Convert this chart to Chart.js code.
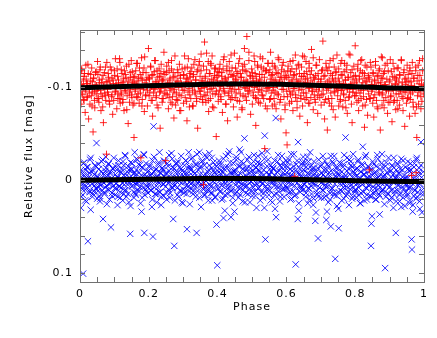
<!DOCTYPE html>
<html>
<head>
<meta charset="utf-8">
<script src="https://cdn.jsdelivr.net/npm/chart.js@4.4.1/dist/chart.umd.min.js"></script>
<style>
  body { margin: 0; background: #fff; }
  canvas { display: block; }
</style>
</head>
<body>
<canvas id="chart" width="437" height="338"></canvas>
<script>
// phase and magnitudes are stored x1000 (phase in thousandths, mag in mmag)
const phase = [
  0,1,3,4,5,7,9,10,12,13,15,17,18,20,22,23,25,27,29,31,33,35,36,38,
  40,42,43,45,47,48,50,51,53,55,56,58,60,61,63,65,67,68,70,72,74,75,77,79,
  80,82,83,85,86,88,90,92,93,95,97,98,100,102,103,105,107,109,110,112,114,116,117,119,
  120,121,123,125,127,128,130,132,133,135,137,139,140,142,144,146,147,149,151,152,154,156,157,159,
  160,162,164,165,167,169,170,172,174,175,177,179,181,182,184,186,187,189,191,192,194,196,198,199,
  201,202,204,206,207,209,211,212,214,216,218,219,221,223,224,226,228,230,231,233,235,236,238,239,
  240,242,244,245,247,249,250,252,254,256,257,259,261,262,264,266,268,269,271,273,274,276,278,279,
  280,282,284,285,287,289,290,292,294,295,297,299,301,302,304,306,307,309,311,312,314,316,318,319,
  320,322,323,325,327,329,330,332,334,335,337,339,340,342,344,346,347,349,351,352,354,356,357,359,
  361,362,364,366,368,369,371,373,374,376,378,379,381,383,384,386,388,389,391,393,394,396,397,399,
  400,402,404,405,407,409,410,412,414,416,417,419,421,422,424,426,427,429,431,433,434,436,438,439,
  441,442,444,446,447,449,451,452,454,456,457,459,461,462,464,466,467,469,471,473,474,476,478,479,
  480,482,484,485,487,489,491,492,494,496,497,499,501,502,504,506,507,509,511,513,514,516,518,519,
  521,522,524,526,527,529,531,532,534,536,537,539,541,542,544,546,547,549,551,553,554,556,558,559,
  560,562,564,565,567,569,570,572,574,576,577,579,581,582,584,586,587,589,591,593,594,596,598,599,
  601,602,604,606,607,609,611,612,614,616,617,619,621,622,624,626,627,629,631,633,634,636,638,639,
  640,642,644,645,647,649,650,652,654,656,657,659,661,662,664,666,667,669,671,673,674,676,678,679,
  681,682,684,686,687,689,691,692,694,696,697,699,701,702,704,706,707,709,711,713,714,716,718,719,
  720,722,724,725,727,729,730,732,734,736,737,739,741,742,744,746,747,749,751,752,754,756,758,759,
  761,762,764,766,767,769,771,772,774,776,777,779,781,782,784,786,787,789,791,793,794,796,798,799,
  800,802,804,805,807,809,810,812,814,816,817,819,821,822,824,826,827,829,831,833,834,836,838,839,
  841,842,844,846,847,849,851,852,854,856,857,859,861,862,864,866,867,869,871,873,874,876,878,879,
  880,882,884,885,887,889,890,892,894,896,897,899,901,902,904,906,907,909,911,913,914,916,918,919,
  920,922,924,925,927,929,930,932,934,936,937,939,941,942,944,946,947,949,951,953,954,956,958,959,
  960,962,964,965,967,969,970,972,974,976,977,979,981,982,984,986,987,989,991,993,994,996,998,999
];
const redMag = [
  -95,-112,-82,-103,-120,-92,-100,-107,-86,-115,-73,-98,-109,-89,-104,-125,-66,-94,-101,-114,-91,-80,-106,-52,
  -110,-96,-78,-116,-93,-102,-88,-128,-99,-84,-108,-119,-97,-75,-105,-90,-113,-62,-101,-94,-122,-86,-28,-106,
  -98,-115,-92,-107,-82,-122,-101,-90,-110,-71,-104,-86,-118,-95,-131,-99,-77,-112,-93,-105,-88,-127,-83,-102,
  -119,-94,-105,-87,-110,-75,-100,-114,-96,-123,-91,-103,-61,-108,-84,-116,-98,-129,-89,-106,-81,-111,-46,-104,
  -96,-118,-90,-103,-126,-93,-110,-83,-99,-114,-24,-132,-87,-108,-98,-121,-74,-105,-92,-116,-101,-80,-111,-142,
  -91,-109,-100,-122,-86,-113,-69,-104,-94,-117,-98,-129,-89,-106,-81,-111,-102,-120,-95,-56,-115,-99,-108,-84,
  -107,-88,-138,-94,-114,-21,-100,-123,-92,-105,-77,-118,-97,-110,-84,-129,-103,-90,-116,-67,-98,-112,-81,-104,
  -94,-107,-86,-116,-100,-125,-75,-110,-91,-104,-120,-97,-83,-113,-134,-89,-103,-109,-64,-122,-95,-106,-79,-115,
  -111,-88,-105,-121,-97,-80,-114,-101,-130,-93,-108,-85,-117,-56,-102,-124,-96,-112,-90,-136,-99,-87,-107,5,
  -92,-149,-110,-84,-119,-101,-95,-128,-74,-106,-115,-88,-124,-99,-134,-93,-108,-78,-113,-102,-121,-47,-96,-117,
  -107,-85,-116,-97,-125,-90,-104,-112,-73,-120,-99,-133,-94,-109,-82,-105,-118,-64,-111,-91,-128,-101,-87,-114,
  -96,-121,-102,-79,-113,-137,-89,-108,-94,-117,-68,-105,-126,-98,-85,-115,-103,-111,-76,-123,-91,-107,-142,-100,
  -118,-99,-86,-155,-106,-93,-129,-97,-113,-71,-104,-120,-82,-110,-91,-134,-100,-115,-59,-107,-88,-124,-95,-105,
  -98,-114,-83,-107,-122,-92,-131,-102,-88,-111,-34,-118,-96,-105,-77,-126,-100,-116,-87,-109,-138,-94,-106,-80,
  -114,-100,-88,-123,-95,-108,-77,-116,-102,-132,-92,-105,-84,-111,-66,-119,-98,-104,-127,-90,-109,-81,-113,-51,
  -96,-38,-118,-101,-111,-83,-128,-92,-106,-120,-94,-75,-113,-99,-4,-135,-89,-109,-85,-104,-124,-97,-115,-69,
  -107,-91,-122,-98,-80,-112,-103,-133,-87,-109,-94,-117,-62,-105,-83,-126,-100,-114,-89,-141,-96,-104,-76,-111,
  -92,-109,-84,-124,-98,-103,-72,-115,-96,-130,-89,-106,-81,-118,-100,-150,-93,-112,-66,-104,-87,-121,-101,-54,
  -118,-99,-108,-83,-129,-94,-103,-88,-113,-76,-106,-122,-96,-68,-116,-101,-135,-91,-110,-80,-104,-85,-126,-97,
  -97,-113,-79,-104,-92,-126,-86,-108,-119,-100,-72,-111,-89,-136,-95,-103,-116,-82,-62,-109,-98,-123,-91,-105,
  -145,-91,-107,-84,-120,-99,-75,-112,-94,-129,-88,-102,-116,-80,-97,-110,-57,-124,-101,-87,-106,-70,-113,-93,
  -11,-109,-88,-122,-96,-103,-83,-115,-68,-107,-92,-128,-100,-86,-112,-77,-105,-118,-94,-54,-102,-110,-81,-132,
  -94,-115,-78,-103,-124,-89,-99,-109,-72,-118,-96,-106,-84,-130,-91,-101,-63,-112,-97,-120,-86,-104,-76,-110,
  -108,-86,-101,-121,-93,-81,-113,-98,-129,-90,-105,-75,-116,-95,-58,-103,-110,-83,-124,-100,-89,-107,-69,-118,
  -87,-106,-5,-115,-95,-79,-110,-101,-72,-122,-8,-46,-91,-113,-82,-104,-129,-98,-77,-108,-85,-118,-93,-102
];
const blueMag = [
  -8,3,30,18,-2,10,101,-18,6,-5,22,-11,1,-14,8,66,-3,12,-22,32,-9,4,-1,15,
  12,-6,2,-15,9,-40,20,-3,8,-12,17,23,-1,5,-20,11,42,-7,3,14,-10,-25,6,0,
  -5,10,-17,4,21,-9,51,-2,14,-13,6,-24,1,16,-6,9,-11,27,-3,-16,7,-1,19,-8,
  8,-12,3,-20,15,-5,11,-26,0,18,-9,5,-15,24,-3,58,28,-11,7,-18,2,13,-7,-30,
  -5,16,-11,5,-22,1,12,-8,-16,8,-2,34,19,-13,3,-27,57,-6,10,-18,6,-3,14,-10,
  6,-14,0,-5,11,29,-21,61,-58,-9,15,2,-12,24,-3,8,-17,3,-30,13,-7,18,-2,-13,
  -11,4,17,-4,-20,7,-8,21,0,-15,10,-27,2,14,-6,-2,-23,8,42,-12,71,5,-18,1,
  1,-18,8,-8,18,-3,-14,12,-26,3,-10,25,-5,14,-16,-2,-21,6,53,-7,11,-30,2,-12,
  -14,4,-23,9,-5,15,-9,-3,0,-17,7,57,-28,12,-11,2,19,-6,-15,29,5,-21,-2,10,
  3,-16,16,-6,7,-24,-1,11,-11,-29,5,-4,14,-13,22,1,-19,8,-8,18,-3,-15,48,92,
  -10,9,-21,1,12,-7,-17,6,-3,20,41,-12,33,4,-26,10,-5,15,-14,-1,-31,7,-8,40,
  11,-8,19,-18,0,34,-11,5,-25,13,-4,8,-15,2,-33,16,-7,-20,4,23,-12,-1,-45,7,
  -5,14,-13,6,-22,-1,10,-8,24,-17,2,-3,17,-10,8,-27,-6,12,-14,30,4,-19,0,-11,
  8,-18,2,-7,13,-29,4,19,-11,30,-48,64,-3,10,-15,5,-22,16,-6,0,22,-9,-14,3,
  1,-13,16,-5,31,-67,40,7,-20,-2,12,-10,23,-16,5,-4,-26,10,-8,18,0,-14,6,-21,
  -8,9,-19,3,14,-3,-12,21,-28,5,-5,12,-15,0,17,-10,91,-2,-21,42,-41,33,7,-7,
  13,-4,7,-17,0,-25,10,4,-10,18,-14,1,-7,25,-20,9,-2,-30,6,15,-12,2,-5,20,
  -13,4,44,35,-9,15,-4,63,-22,8,-2,-15,19,-7,2,-26,11,-11,6,-3,17,43,34,-17,
  7,-15,2,-5,21,50,-10,9,-20,-1,14,-26,4,85,-8,17,-3,-13,31,52,-6,11,-18,1,
  -9,12,4,-17,20,-3,-1,-46,7,-24,15,1,-12,27,-6,10,-20,5,-14,18,-28,3,-7,13,
  11,-4,19,-13,3,-22,8,-1,25,-9,14,-17,5,-36,-6,22,-11,2,-27,9,16,-3,-15,6,
  -4,17,-11,71,47,39,-20,7,0,13,-8,21,-15,4,-27,10,-3,15,37,-6,3,-18,12,-1,
  10,-13,3,-6,95,18,-19,5,14,0,-24,8,-9,22,-3,11,-16,2,30,-7,16,-2,57,-11,
  -2,11,-17,6,-8,23,0,14,-23,8,-11,19,3,-5,28,-14,5,-1,17,-20,9,-10,25,2,
  8,-11,64,75,34,-2,17,-18,11,1,20,-24,5,13,-6,-13,23,4,-41,-3,35,16,-9,9
];
// second night of observations
const phase2 = [
  1,3,5,8,10,12,15,17,19,22,24,27,29,31,34,36,39,42,44,47,
  50,52,54,57,59,61,64,66,68,71,73,76,78,80,83,85,88,91,93,96,
  101,103,105,108,110,112,115,117,119,122,124,127,129,131,134,136,139,142,144,147,
  150,152,154,157,159,161,164,166,168,171,173,176,178,180,183,185,188,191,193,196,
  201,203,205,208,210,212,215,217,219,222,224,227,229,231,234,236,239,242,244,247,
  250,252,254,257,259,261,264,266,268,271,273,276,278,280,283,285,288,291,293,296,
  301,303,305,308,310,312,315,317,319,322,324,327,329,331,334,336,339,342,344,347,
  350,352,354,357,359,361,364,366,368,371,373,376,378,380,383,385,388,391,393,396,
  401,403,405,408,410,412,415,417,419,422,424,427,429,431,434,436,439,442,444,447,
  450,452,454,457,459,461,464,466,468,471,473,476,478,480,483,485,488,491,493,496,
  501,503,505,508,510,512,515,517,519,522,524,527,529,531,534,536,539,542,544,547,
  550,552,554,557,559,561,564,566,568,571,573,576,578,580,583,585,588,591,593,596,
  601,603,605,608,610,612,615,617,619,622,624,627,629,631,634,636,639,642,644,647,
  650,652,654,657,659,661,664,666,668,671,673,676,678,680,683,685,688,691,693,696,
  701,703,705,708,710,712,715,717,719,722,724,727,729,731,734,736,739,742,744,747,
  750,752,754,757,759,761,764,766,768,771,773,776,778,780,783,785,788,791,793,796,
  801,803,805,808,810,812,815,817,819,822,824,827,829,831,834,836,839,842,844,847,
  850,852,854,857,859,861,864,866,868,871,873,876,878,880,883,885,888,891,893,896,
  901,903,905,908,910,912,915,917,919,922,924,927,929,931,934,936,939,942,944,947,
  950,952,954,957,959,961,964,966,968,971,973,976,978,980,983,985,988,991,993,996
];
const redMag2 = [
  -109,-93,-118,-101,-87,-112,-96,-124,-104,-90,-115,-99,-82,-107,-121,-95,-110,-86,-103,-117,
  -97,-114,-88,-105,-122,-93,-109,-79,-101,-116,-91,-106,-127,-95,-111,-85,-102,-119,-92,-108,
  -113,-96,-104,-120,-88,-108,-131,-99,-92,-115,-84,-106,-118,-97,-110,-76,-103,-125,-94,-111,
  -92,-117,-105,-83,-112,-98,-126,-107,-89,-102,-121,-94,-110,-80,-116,-100,-133,-91,-108,-97,
  -110,-95,-123,-101,-86,-114,-99,-129,-106,-91,-118,-78,-104,-112,-96,-125,-88,-109,-117,-100,
  -93,-116,-104,-127,-89,-108,-99,-120,-82,-111,-95,-134,-103,-87,-119,-106,-92,-113,-75,-101,
  -114,-97,-121,-106,-85,-110,-131,-99,-92,-117,-104,-80,-112,-125,-95,-108,-88,-119,-101,-128,
  -96,-118,-107,-84,-123,-100,-112,-91,-137,-105,-86,-115,-98,-126,-109,-79,-102,-120,-93,-111,
  -113,-92,-120,-101,-87,-116,-107,-130,-96,-110,-82,-123,-104,-94,-118,-99,-135,-89,-112,-106,
  -98,-121,-109,-86,-115,-102,-131,-93,-111,-78,-119,-104,-125,-90,-108,-117,-96,-138,-101,-112,
  -116,-95,-107,-128,-89,-112,-101,-122,-84,-109,-133,-97,-114,-91,-120,-105,-80,-118,-99,-126,
  -100,-119,-88,-113,-126,-97,-108,-82,-121,-103,-93,-115,-130,-106,-87,-111,-124,-98,-117,-76,
  -111,-90,-123,-104,-96,-117,-85,-108,-129,-99,-114,-92,-120,-78,-106,-125,-101,-88,-112,-134,
  -94,-115,-105,-128,-89,-110,-99,-121,-83,-107,-118,-96,-132,-102,-87,-113,-124,-91,-109,-100,
  -109,-92,-119,-101,-84,-113,-126,-97,-106,-88,-122,-103,-115,-80,-110,-131,-95,-108,-117,-99,
  -97,-120,-106,-87,-114,-129,-101,-93,-117,-108,-78,-124,-98,-111,-90,-135,-104,-119,-95,-112,
  -113,-94,-102,-125,-86,-109,-118,-97,-130,-105,-90,-115,-81,-107,-122,-99,-111,-88,-127,-103,
  -98,-116,-89,-108,-124,-101,-79,-113,-95,-120,-105,-133,-92,-110,-86,-117,-103,-97,-126,-84,
  -108,-90,-117,-99,-126,-84,-111,-103,-93,-121,-77,-106,-114,-96,-130,-101,-88,-119,-109,-95,
  -106,-88,-114,-97,-121,-93,-102,-127,-84,-110,-99,-118,-79,-107,-124,-95,-113,-90,-103,-131
];
const blueMag2 = [
  7,-11,2,16,-6,-19,10,-2,23,-14,4,-8,13,-24,0,18,-10,6,-16,9,
  -4,12,-17,5,20,-9,1,-22,14,-6,8,-13,26,-1,-18,11,-7,3,17,-12,
  9,-15,4,-3,18,-21,7,13,-9,-1,22,-16,5,-27,11,-5,15,-11,2,-19,
  -12,6,-2,19,-8,14,-23,3,10,-17,1,25,-5,-14,8,-28,16,-3,12,-9,
  4,-16,11,-7,21,-2,-25,8,-11,15,-4,2,-19,13,-8,27,-13,5,-21,0,
  -6,13,-18,3,-10,19,-1,-29,9,-14,6,22,-8,-3,16,-20,1,11,-12,24,
  10,-9,2,-21,15,-4,7,-15,26,-11,0,-24,12,5,-7,18,-17,3,-2,-30,
  -13,4,-20,9,-5,16,-27,1,11,-9,22,-16,-2,7,-24,14,-10,3,19,-6,
  6,-17,-3,13,-11,21,-8,-23,2,16,-14,-1,9,-28,4,-19,12,-6,25,-10,
  -9,14,-22,1,-5,19,-15,8,-30,-2,11,-18,5,24,-11,-4,15,-25,3,-13,
  12,-7,-20,5,17,-13,-1,-26,9,-10,22,-4,-17,3,14,-23,7,-8,-31,10,
  -5,11,-16,-1,24,-12,6,-21,2,15,-9,-27,8,-3,18,-14,0,-19,10,-6,
  8,-14,1,-22,13,-5,20,-10,-1,-28,6,16,-17,3,-8,25,-12,10,-3,-19,
  -11,5,-19,14,-2,-25,9,-7,21,-15,2,-9,27,-20,6,-4,12,-13,18,-1,
  3,-16,11,-6,19,-21,7,-11,-1,24,-8,14,-26,0,9,-18,16,-4,-13,28,
  -7,13,-19,4,-2,22,-14,8,-27,-5,17,-10,1,12,-22,6,-16,20,-3,-9,
  10,-12,4,-20,16,-3,25,-9,2,-16,13,-6,-25,8,21,-1,-14,5,-10,18,
  -5,14,-17,9,-9,21,-2,-23,6,17,-12,3,-28,11,-4,26,-15,1,-8,15,
  7,-10,19,-15,2,-24,12,-3,23,-18,5,-7,16,-12,29,0,-21,9,-1,13,
  -4,15,-12,8,22,-18,3,-7,27,-14,11,-1,-22,18,6,-9,31,-16,2,13
];
// fitted curves (mag)
const fitPhase = [0, 0.1, 0.2, 0.3, 0.4, 0.5, 0.6, 0.7, 0.8, 0.9, 1];
const fitRed = [-0.0998, -0.1008, -0.1018, -0.1028, -0.1036, -0.1038, -0.1032, -0.1022, -0.1008, -0.0995, -0.0986];
const fitBlue = [0.0002, -0.0004, -0.001, -0.0015, -0.0018, -0.0016, -0.001, -0.0002, 0.0006, 0.0012, 0.0016];

const ctx = document.getElementById("chart");
const textFont = { family: "DejaVu Sans", size: 11 };

function points(xs, ys, scale) {
  return xs.map((x, i) => ({ x: x / scale, y: ys[i] / scale }));
}

function isLabel(v, step) {
  return Math.abs(v / step - Math.round(v / step)) < 1e-6;
}

const frame = {
  id: "frame",
  beforeDraw(chart) {
    chart.ctx.letterSpacing = "1px";
  },
  afterDatasetsDraw(chart) {
    const c = chart.ctx;
    const a = chart.chartArea;
    const { x, y } = chart.scales;
    c.save();
    c.strokeStyle = "#707070";
    c.lineWidth = 1;
    c.beginPath();
    x.ticks.forEach((t) => {
      const px = Math.round(x.getPixelForValue(t.value)) + 0.5;
      c.moveTo(px, a.bottom);
      c.lineTo(px, a.bottom - 5);
      c.moveTo(px, a.top);
      c.lineTo(px, a.top + 5);
    });
    y.ticks.forEach((t) => {
      const py = Math.round(y.getPixelForValue(t.value)) + 0.5;
      c.moveTo(a.left, py);
      c.lineTo(a.left + 5, py);
      c.moveTo(a.right, py);
      c.lineTo(a.right - 5, py);
    });
    c.stroke();
    c.strokeRect(a.left + 0.5, a.top + 0.5, a.right - a.left, a.bottom - a.top);
    c.restore();
  },
};

const redStyle = { pointStyle: "cross", pointRadius: 3.5, borderWidth: 1, borderColor: "rgba(255,0,0,0.85)", order: 1 };
const blueStyle = { pointStyle: "crossRot", pointRadius: 4.5, borderWidth: 1, borderColor: "rgba(0,0,255,0.85)", order: 2 };
const fitStyle = { showLine: true, borderColor: "#000", borderWidth: 5, pointRadius: 0, tension: 0.4, clip: 0, order: 0 };

new Chart(ctx, {
  type: "scatter",
  data: {
    datasets: [
      { ...fitStyle, data: points(fitPhase, fitRed, 1) },
      { ...fitStyle, data: points(fitPhase, fitBlue, 1) },
      { ...redStyle, data: points(phase, redMag, 1000) },
      { ...redStyle, data: points(phase2, redMag2, 1000) },
      { ...blueStyle, data: points(phase, blueMag, 1000) },
      { ...blueStyle, data: points(phase2, blueMag2, 1000) },
    ],
  },
  options: {
    responsive: false,
    animation: false,
    events: [],
    layout: { padding: { top: 30, right: 13, left: 0, bottom: 0 } },
    plugins: { legend: { display: false }, tooltip: { enabled: false } },
    scales: {
      x: {
        min: 0,
        max: 1,
        grid: { display: false, drawTicks: false },
        border: { display: false },
        afterFit: (s) => { s.height = 56; },
        ticks: {
          stepSize: 0.05,
          includeBounds: false,
          autoSkip: false,
          maxRotation: 0,
          padding: 6,
          color: "#000",
          font: textFont,
          callback: (v) => (isLabel(v, 0.2) ? String(Number(v.toFixed(1))) : ""),
        },
        title: { display: true, text: "Phase", color: "#000", font: textFont, padding: { top: 0, bottom: 24 } },
      },
      y: {
        reverse: true,
        min: -0.162,
        max: 0.11,
        grid: { display: false, drawTicks: false },
        border: { display: false },
        afterFit: (s) => { s.width = 80; },
        ticks: {
          stepSize: 0.02,
          includeBounds: false,
          autoSkip: false,
          padding: 7,
          color: "#000",
          font: textFont,
          callback: (v) => (isLabel(v, 0.1) ? String(Number(v.toFixed(1))) : ""),
        },
        title: { display: true, text: "Relative flux [mag]", color: "#000", font: textFont, padding: { top: 23, bottom: 0 } },
      },
    },
  },
  plugins: [frame],
});
</script>
</body>
</html>
